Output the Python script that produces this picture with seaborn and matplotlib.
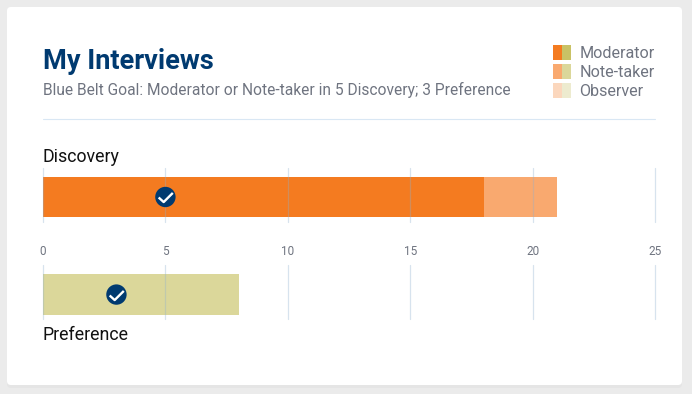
import matplotlib
matplotlib.use("Agg")
import matplotlib.pyplot as plt
from matplotlib.patches import FancyBboxPatch, Rectangle
from matplotlib.path import Path
import pandas as pd
import seaborn as sns

# --- data ---
discovery_moderator = 18
discovery_notetaker = 3
discovery_goal = 5
preference_moderator = 0
preference_notetaker = 8
preference_goal = 3
x_ticks = [0, 5, 10, 15, 20, 25]
legend_labels = ["Moderator", "Note-taker", "Observer"]
legend_orange = ["#F47B20", "#F9A96F", "#FBD7BD"]
legend_olive = ["#C9C265", "#DBD79A", "#EDEBCF"]

NAVY = "#003A70"
GREY = "#6F7480"
GRID = "#8FB0CF"
W, H = 692, 394

sns.set_theme(style="white")
plt.rcParams["font.family"] = ["Roboto", "DejaVu Sans"]

fig = plt.figure(figsize=(W / 100, H / 100), dpi=100, facecolor="#EBEBEB")

# background card, in pixel coordinates
bg = fig.add_axes([0, 0, 1, 1])
bg.set_xlim(0, W)
bg.set_ylim(H, 0)
bg.axis("off")
bg.add_patch(FancyBboxPatch((7, 9), 675, 379, boxstyle="round,pad=0,rounding_size=4",
                            fc="#E5E5E5", ec="none", lw=0))
bg.add_patch(FancyBboxPatch((7, 7), 675, 378, boxstyle="round,pad=0,rounding_size=4",
                            fc="white", ec="none", lw=0))

bg.text(43, 61, "My Interviews", fontsize=19.5, fontweight="bold", color=NAVY, va="center")
bg.text(43, 90, "Blue Belt Goal: Moderator or Note-taker in 5 Discovery; 3 Preference",
        fontsize=11.2, color=GREY, va="center")
bg.plot([43, 655], [118.5, 118.5], color="#D9E7F4", lw=0.8)
bg.text(43, 157, "Discovery", fontsize=12.8, color="#111111", va="center")
bg.text(43, 335, "Preference", fontsize=12.8, color="#111111", va="center")

# legend
for i, lab in enumerate(legend_labels):
    top = 45 + i * 19
    bg.add_patch(Rectangle((553, top), 9, 15, fc=legend_orange[i], ec="none", lw=0))
    bg.add_patch(Rectangle((562, top), 9, 15, fc=legend_olive[i], ec="none", lw=0))
    bg.text(579.5, top + 8, lab, fontsize=11.6, color=GREY, va="center")

check = Path([(-0.45, 0.0), (-0.12, -0.3), (0.48, 0.3)],
             [Path.MOVETO, Path.LINETO, Path.LINETO])


def make_axes(top, bottom):
    ax = fig.add_axes([43 / W, 1 - bottom / H, (655 - 43) / W, (bottom - top) / H])
    ax.patch.set_alpha(0)
    return ax


def draw_row(ax, label, first, second, first_color, second_color, goal, ylim):
    total = first + second
    # stacked bar: the total underneath, first role over it
    df = pd.DataFrame({"cat": [label], "total": [total], "first": [first]})
    sns.barplot(data=df, x="total", y="cat", color=second_color, saturation=1, width=1,
                linewidth=0, edgecolor="none", ax=ax)
    if first > 0:
        sns.barplot(data=df, x="first", y="cat", color=first_color, saturation=1, width=1,
                    linewidth=0, edgecolor="none", ax=ax)
    ax.set_xlim(0, x_ticks[-1])
    ax.set_ylim(*ylim)
    ax.set_xticks(x_ticks)
    ax.set_yticks([])
    ax.set_xlabel("")
    ax.set_ylabel("")
    ax.grid(axis="x", color=GRID, lw=0.9, alpha=0.35)
    for line in ax.get_xgridlines():
        line.set_clip_on(False)
    ax.set_axisbelow(False)
    sns.despine(ax=ax, left=True, bottom=True)
    sns.scatterplot(x=[goal], y=[0], s=215, color=NAVY, edgecolor="none", ax=ax,
                    zorder=5, clip_on=False, legend=False)
    ax.plot([goal], [0], marker=check, ms=10.5, mfc="none", mec="white", mew=1.7,
            ls="none", zorder=6)


ax1 = make_axes(168, 222)
draw_row(ax1, "Discovery", discovery_moderator, discovery_notetaker,
         legend_orange[0], legend_orange[1], discovery_goal, (0.625, -0.725))
ax1.tick_params(axis="x", length=0, pad=16.5, labelsize=8.5, labelcolor=GREY)

ax2 = make_axes(265, 319)
draw_row(ax2, "Preference", preference_moderator, preference_notetaker,
         legend_olive[0], legend_olive[1], preference_goal, (0.595, -0.72))
ax2.tick_params(axis="x", length=0, labelbottom=False)

fig.savefig("out.png", dpi=100, facecolor=fig.get_facecolor())
